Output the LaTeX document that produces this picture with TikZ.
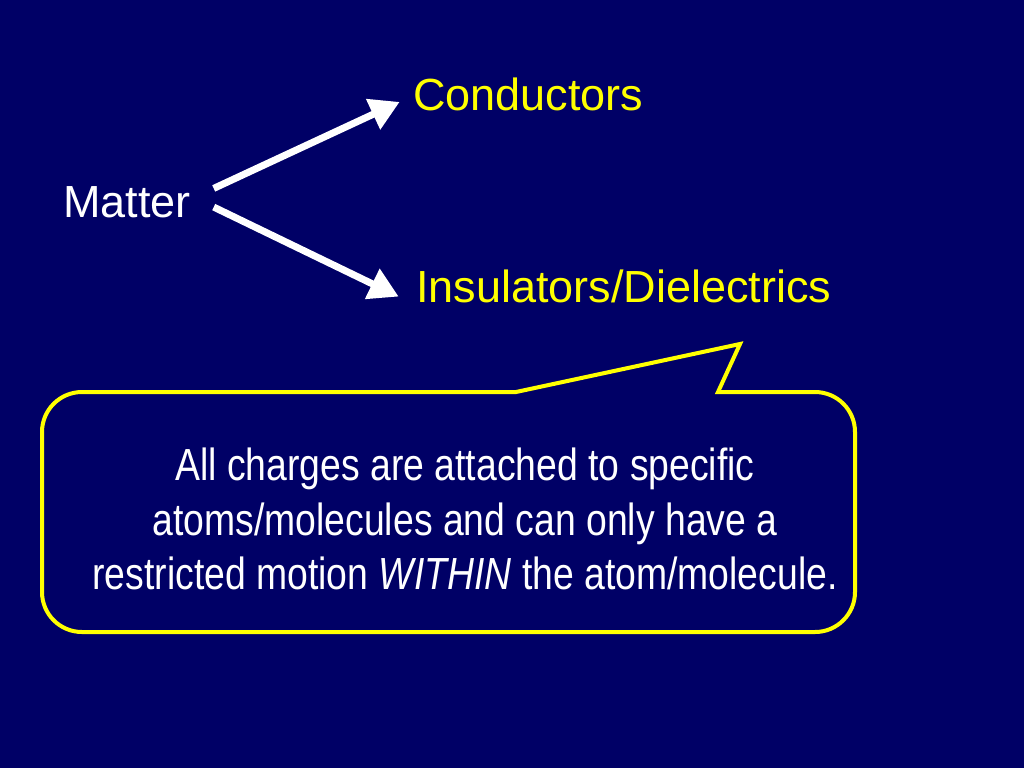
\documentclass[tikz,border=0pt]{standalone}
\usepackage{fontspec}
\setmainfont{Liberation Sans}
\newfontfamily\narrowfont[FakeStretch=0.83]{Liberation Sans}
\usetikzlibrary{arrows.meta}
\definecolor{bg}{RGB}{0,0,102}
\definecolor{yel}{RGB}{255,255,0}
\tikzset{
  big/.style={font=\fontsize{33.75}{40}\selectfont, inner sep=0pt, anchor=base west},
  flow/.style={draw=white, line width=5.25pt, -{Triangle[length=22pt,width=24pt]}},
  callout/.style={draw=yel, line width=3pt, fill=bg, line join=miter},
}
\begin{document}
\begin{tikzpicture}[x=0.75pt,y=-0.75pt]
\fill[bg] (0,0) rectangle (1024,768);
\useasboundingbox (0,0) rectangle (1024,768);
\node[big, text=white] (matter) at (63,217) {Matter};
\node[big, text=yel] (cond) at (413,110) {Conductors};
\node[big, text=yel] (ins) at (416,302) {Insulators/Dielectrics};
\draw[flow] ([xshift=17pt,yshift=10pt]matter.east) -- ([xshift=-10pt,yshift=-6pt]cond.west);
\draw[flow] ([xshift=17pt,yshift=-4pt]matter.east) -- ([xshift=-13pt,yshift=-8pt]ins.west);
\draw[callout] (516,392) -- (740,344) -- (718,392)
  {[rounded corners=30pt] -- (855,392) -- (855,632) -- (42,632) -- (42,392)} -- cycle;
\node[font=\narrowfont\fontsize{33.75}{41}\selectfont, text=white, align=center, inner sep=0pt] (txt) at (465,519)
  {All charges are attached to specific\\atoms/molecules and can only have a\\restricted motion \textit{WITHIN} the atom/molecule.};
\end{tikzpicture}
\end{document}
